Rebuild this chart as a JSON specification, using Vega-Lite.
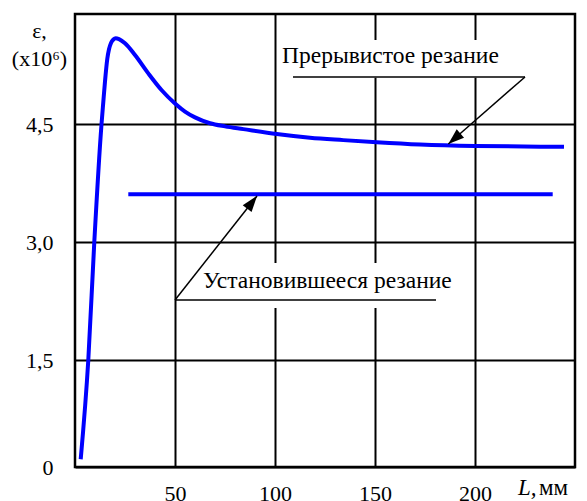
{
  "$schema": "https://vega.github.io/schema/vega-lite/v6.json",
  "width": 500,
  "height": 453,
  "autosize": "none",
  "padding": {"left": 75, "top": 14, "right": 12, "bottom": 34},
  "background": "white",
  "config": {
    "view": {"stroke": "black", "strokeWidth": 2.5},
    "font": "'Liberation Serif', 'Times New Roman', serif"
  },
  "datasets": {
    "curve": [
      {"x": 2.85, "y": 0.108},
      {"x": 6.65, "y": 1.5},
      {"x": 9.65, "y": 3.0},
      {"x": 13.25, "y": 4.496},
      {"x": 14.15, "y": 4.8},
      {"x": 15.0, "y": 5.08},
      {"x": 16.15, "y": 5.39},
      {"x": 17.0, "y": 5.52},
      {"x": 18.0, "y": 5.605},
      {"x": 19.2, "y": 5.652},
      {"x": 20.35, "y": 5.669},
      {"x": 22.0, "y": 5.657},
      {"x": 25.0, "y": 5.6},
      {"x": 30.0, "y": 5.44},
      {"x": 36.65, "y": 5.19},
      {"x": 43.35, "y": 4.96},
      {"x": 50.0, "y": 4.78},
      {"x": 55.0, "y": 4.67},
      {"x": 60.0, "y": 4.59},
      {"x": 67.5, "y": 4.51},
      {"x": 75.0, "y": 4.47},
      {"x": 84.15, "y": 4.435},
      {"x": 100.85, "y": 4.373},
      {"x": 117.5, "y": 4.326},
      {"x": 134.15, "y": 4.295},
      {"x": 150.85, "y": 4.267},
      {"x": 172.5, "y": 4.238},
      {"x": 200, "y": 4.22},
      {"x": 244.5, "y": 4.211}
    ],
    "steady": [
      {"x": 26.65, "y": 3.606},
      {"x": 238.85, "y": 3.606}
    ]
  },
  "encoding": {
    "x": {"field": "x", "type": "quantitative", "scale": {"domain": [0, 250], "nice": false, "zero": false},
      "axis": {"values": [50, 100, 150, 200], "grid": true, "gridColor": "black", "gridWidth": 2, "gridOpacity": 1,
        "ticks": false, "domain": false, "labelFontSize": 22, "labelColor": "black", "labelPadding": 16,
        "labelFlush": false, "labelFont": "'Liberation Serif', 'Times New Roman', serif", "title": null}},
    "y": {"field": "y", "type": "quantitative",
      "scale": {"domain": [0, 1.5, 3, 4.5, 6], "range": [453, 346, 228, 110, 0], "nice": false, "zero": false},
      "axis": {"values": [0, 1.5, 3, 4.5], "grid": true, "gridColor": "black", "gridWidth": 2, "gridOpacity": 1,
        "ticks": false, "domain": false, "labelFontSize": 22, "labelColor": "black", "labelPadding": 22,
        "labelFlush": false, "labelFont": "'Liberation Serif', 'Times New Roman', serif",
        "labelExpr": "datum.value == 0 ? '0' : replace(format(datum.value, '.1f'), '.', ',')",
        "title": ["ε,", "(x10⁶)"], "titleAngle": 0, "titleAlign": "center", "titleBaseline": "alphabetic",
        "titleX": -36, "titleY": 23, "titleFontSize": 22, "titleFontWeight": "normal", "titleLineHeight": 28,
        "titleFont": "'Liberation Serif', 'Times New Roman', serif", "titleColor": "black"}}
  },
  "layer": [
    {
      "data": {"values": [
        {"x": 102.5, "x2": 222, "y": 5.645, "y2": 5.13},
        {"x": 62.5, "x2": 188, "y": 2.733, "y2": 2.161}
      ]},
      "mark": {"type": "rect", "fill": "white", "stroke": null},
      "encoding": {
        "x2": {"field": "x2"},
        "y2": {"field": "y2"}
      }
    },
    {
      "data": {"name": "curve"},
      "mark": {"type": "line", "color": "#0000FF", "strokeWidth": 4, "interpolate": "monotone"}
    },
    {
      "data": {"name": "steady"},
      "mark": {"type": "line", "color": "#0000FF", "strokeWidth": 4}
    },
    {
      "data": {"values": [
        {"x": 109, "y": 5.141, "x2": 225, "y2": 5.141},
        {"x": 225, "y": 5.141, "x2": 186.65, "y2": 4.246},
        {"x": 50, "y": 2.263, "x2": 180.5, "y2": 2.263},
        {"x": 50, "y": 2.263, "x2": 91, "y2": 3.585}
      ]},
      "mark": {"type": "rule", "color": "black", "strokeWidth": 1.5},
      "encoding": {
        "x2": {"field": "x2"},
        "y2": {"field": "y2"}
      }
    },
    {
      "data": {"values": [{"x": 186.65, "y": 4.246}]},
      "mark": {"type": "point", "shape": "M0,0L-0.35,1L0.35,1Z", "filled": true, "color": "black", "opacity": 1, "size": 1024, "angle": 229}
    },
    {
      "data": {"values": [{"x": 91, "y": 3.585}]},
      "mark": {"type": "point", "shape": "M0,0L-0.35,1L0.35,1Z", "filled": true, "color": "black", "opacity": 1, "size": 1024, "angle": 38}
    },
    {
      "data": {"values": [
        {"x": 103.5, "y": 5.336, "t": "Прерывистое резание"},
        {"x": 64, "y": 2.411, "t": "Установившееся резание"}
      ]},
      "mark": {"type": "text", "align": "left", "baseline": "alphabetic", "fontSize": 23.5, "color": "black"},
      "encoding": {
        "text": {"field": "t"}
      }
    },
    {
      "data": {"values": [{"x": 221.5, "y": -0.39, "t": "L,"}]},
      "mark": {"type": "text", "align": "left", "baseline": "alphabetic", "fontSize": 23, "fontStyle": "italic", "color": "black"},
      "encoding": {
        "text": {"field": "t"}
      }
    },
    {
      "data": {"values": [{"x": 232, "y": -0.39, "t": "мм"}]},
      "mark": {"type": "text", "align": "left", "baseline": "alphabetic", "fontSize": 23, "color": "black"},
      "encoding": {
        "text": {"field": "t"}
      }
    }
  ]
}
